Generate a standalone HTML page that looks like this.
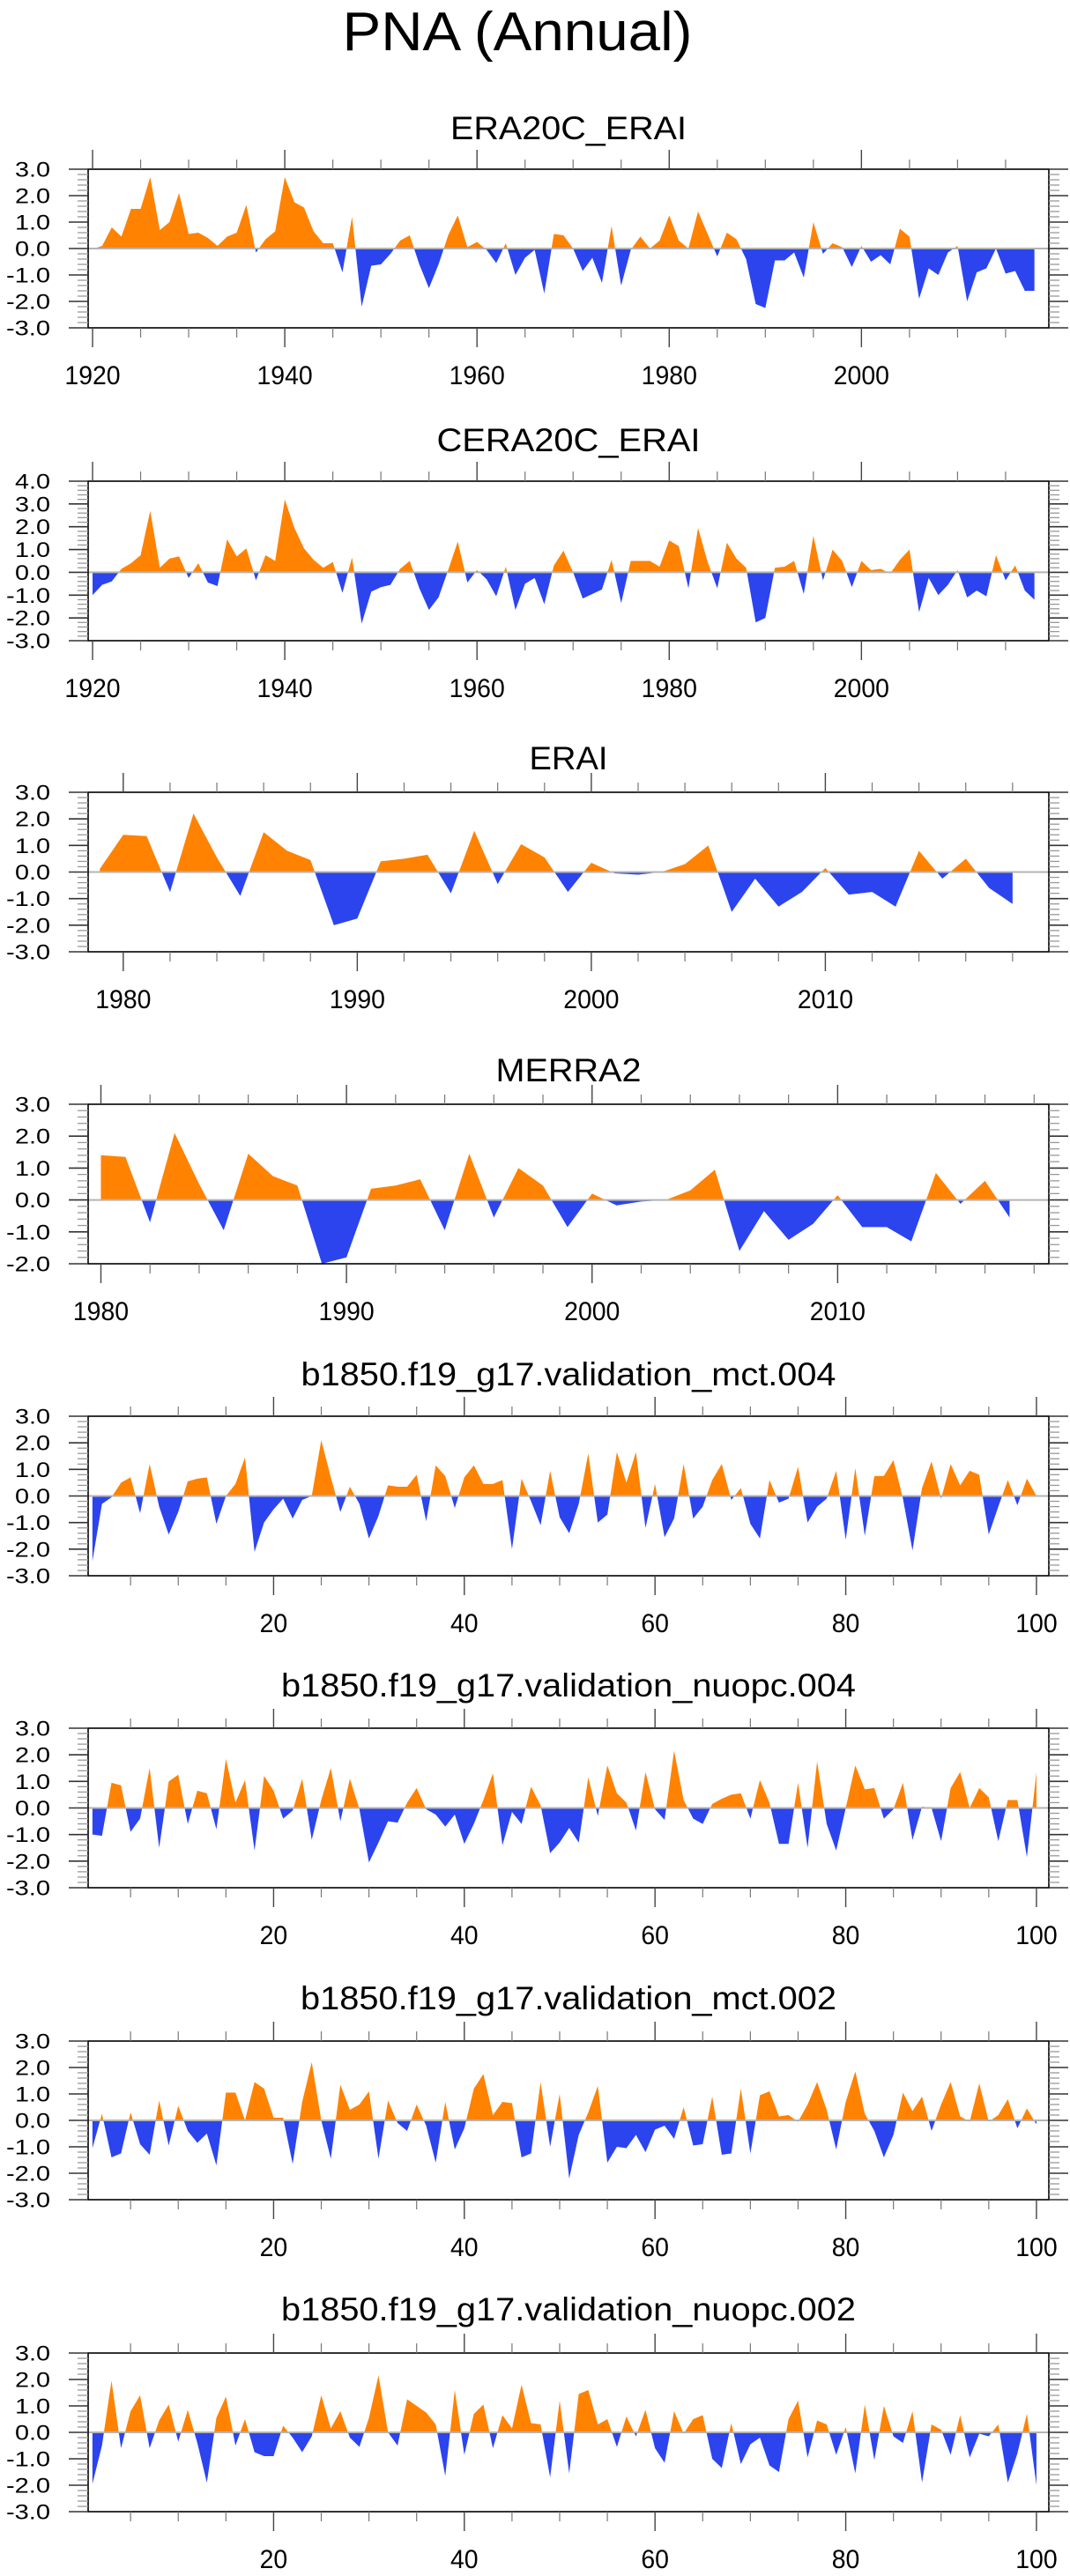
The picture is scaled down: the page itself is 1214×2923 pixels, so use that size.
<!DOCTYPE html>
<html><head><meta charset="utf-8"><title>PNA (Annual)</title>
<style>html,body{margin:0;padding:0;background:#fff;}svg{display:block;font-family:"Liberation Sans",Arial,sans-serif;}</style>
</head><body>
<svg id="chart" xmlns="http://www.w3.org/2000/svg" width="1214" height="2923" viewBox="0 0 1214 2923">
<rect width="1214" height="2923" fill="#fff"/>
<text x="587" y="57" font-size="62" text-anchor="middle" textLength="397" lengthAdjust="spacingAndGlyphs">PNA (Annual)</text>
</svg>
<script>
const era20cStartYear = 1920;
const era20cVals = [-0.02,0.1,0.8,0.45,1.5,1.5,2.7,0.7,1.0,2.1,0.55,0.6,0.4,0.1,0.45,0.6,1.65,-0.15,0.35,0.65,2.7,1.75,1.55,0.65,0.2,0.2,-0.9,1.2,-2.2,-0.65,-0.6,-0.2,0.3,0.5,-0.6,-1.5,-0.6,0.5,1.25,0.05,0.25,-0.05,-0.55,0.2,-1.0,-0.35,-0.05,-1.7,0.55,0.5,0.0,-0.85,-0.35,-1.3,0.85,-1.4,-0.05,0.45,0.0,0.3,1.25,0.3,0.0,1.4,0.55,-0.3,0.6,0.35,-0.4,-2.1,-2.25,-0.45,-0.45,-0.15,-1.1,1.0,-0.2,0.2,0.05,-0.7,0.1,-0.5,-0.25,-0.6,0.75,0.45,-1.9,-0.75,-1.0,-0.15,0.1,-2.0,-0.9,-0.75,0.0,-0.95,-0.85,-1.6,-1.6];
const cera20cStartYear = 1920;
const cera20cVals = [-1.0,-0.55,-0.4,0.15,0.4,0.75,2.7,0.2,0.6,0.7,-0.25,0.4,-0.45,-0.6,1.45,0.7,1.05,-0.35,0.75,0.5,3.2,1.95,1.05,0.55,0.2,0.45,-0.9,0.65,-2.25,-0.85,-0.65,-0.55,0.15,0.5,-0.7,-1.65,-1.1,0.1,1.35,-0.45,0.1,-0.3,-1.05,0.25,-1.65,-0.5,-0.25,-1.4,0.3,0.95,0.0,-1.15,-0.95,-0.75,0.55,-1.35,0.5,0.5,0.5,0.25,1.4,1.15,-0.7,1.95,0.45,-0.7,1.3,0.6,0.2,-2.2,-2.0,0.2,0.25,0.5,-0.95,1.6,-0.35,1.0,0.5,-0.65,0.5,0.1,0.15,-0.05,0.55,1.0,-1.75,-0.25,-1.0,-0.55,0.1,-1.1,-0.8,-1.05,0.75,-0.35,0.3,-0.8,-1.2];
const eraiStartYear = 1979;
const eraiVals = [0.12,1.4,1.35,-0.75,2.2,0.55,-0.9,1.5,0.8,0.45,-2.0,-1.75,0.4,0.5,0.65,-0.8,1.55,-0.45,1.05,0.55,-0.75,0.35,-0.05,-0.1,0.0,0.3,1.0,-1.5,-0.25,-1.3,-0.75,0.15,-0.85,-0.75,-1.3,0.8,-0.25,0.5,-0.6,-1.2];
const merra2StartYear = 1980;
const merra2Vals = [1.4,1.35,-0.7,2.1,0.5,-0.95,1.45,0.75,0.45,-2.0,-1.8,0.35,0.45,0.65,-0.95,1.45,-0.55,1.0,0.45,-0.85,0.2,-0.17,-0.05,0.0,0.3,0.95,-1.6,-0.35,-1.25,-0.75,0.15,-0.85,-0.85,-1.3,0.85,-0.12,0.6,-0.55];
const modelStartYear = 1;
const mct004Vals = [-2.45,-0.3,-0.05,0.5,0.7,-0.65,1.2,-0.4,-1.45,-0.6,0.55,0.65,0.7,-1.05,0.0,0.45,1.45,-2.1,-1.0,-0.5,-0.1,-0.85,-0.15,0.0,2.1,0.7,-0.6,0.35,-0.3,-1.6,-0.75,0.4,0.35,0.35,0.8,-0.95,1.15,0.75,-0.45,0.7,1.15,0.45,0.45,0.6,-2.0,0.65,-0.2,-1.1,0.95,-0.8,-1.4,-0.3,1.6,-1.0,-0.7,1.65,0.5,1.65,-1.2,0.45,-1.55,-0.85,1.2,-0.85,-0.4,0.6,1.2,-0.15,0.3,-1.05,-1.6,0.6,-0.25,-0.1,1.1,-1.0,-0.4,-0.1,0.95,-1.65,1.05,-1.5,0.75,0.75,1.35,-0.1,-2.05,0.3,1.3,-0.1,1.2,0.4,0.95,0.8,-1.45,-0.4,0.6,-0.35,0.65,0.0];
const nuopc004Vals = [-1.0,-1.05,0.95,0.85,-0.9,-0.4,1.5,-1.5,1.0,1.25,-0.6,0.65,0.55,-0.8,1.85,0.2,1.05,-1.6,1.2,0.65,-0.4,-0.1,1.1,-1.2,0.3,1.5,-0.5,1.1,-0.05,-2.05,-1.3,-0.5,-0.55,0.2,0.75,-0.05,-0.25,-0.7,-0.25,-1.35,-0.6,0.3,1.3,-1.4,-0.15,-0.6,0.8,0.1,-1.7,-1.3,-0.75,-1.3,1.15,-0.3,1.6,0.55,0.2,-0.85,1.35,-0.05,-0.45,2.15,0.3,-0.4,-0.6,0.15,0.35,0.5,0.55,-0.4,1.05,0.2,-1.35,-1.35,0.95,-1.5,1.75,-0.6,-1.6,0.0,1.6,0.7,0.75,-0.4,-0.05,0.95,-1.2,0.05,0.0,-1.25,0.75,1.35,0.0,0.75,0.4,-1.25,0.3,0.3,-1.85,1.35];
const mct002Vals = [-1.05,0.25,-1.4,-1.25,0.3,-0.9,-1.3,0.75,-0.95,0.55,-0.4,-0.85,-0.5,-1.7,1.05,1.05,0.0,1.45,1.2,0.1,0.1,-1.65,0.7,2.2,0.0,-1.45,1.35,0.4,0.6,1.1,-1.45,0.75,-0.1,-0.4,0.6,-0.2,-1.6,0.7,-1.1,-0.3,1.2,1.75,0.2,0.7,0.65,-1.4,-1.25,1.45,-1.0,1.0,-2.2,-0.55,0.3,1.3,-1.6,-1.0,-1.05,-0.55,-1.2,-0.35,-0.2,-0.7,0.5,-0.95,-0.9,0.9,-1.3,-1.25,1.2,-1.25,0.95,1.1,0.15,0.2,-0.05,0.6,1.45,0.4,-1.1,0.7,1.85,0.25,-0.4,-1.4,-0.55,1.05,0.35,0.9,-0.4,0.6,1.45,0.15,-0.05,1.4,-0.05,0.2,0.8,-0.3,0.45,-0.15];
const nuopc002Vals = [-1.95,-0.5,1.95,-0.6,0.8,1.4,-0.6,0.45,1.05,-0.35,0.85,-0.4,-1.9,0.55,1.35,-0.5,0.5,-0.75,-0.9,-0.9,0.25,-0.2,-0.75,-0.15,1.4,0.15,0.8,-0.2,-0.55,0.55,2.15,0.0,-0.5,1.25,1.0,0.75,0.3,-1.65,1.6,-0.85,0.7,1.05,-0.6,0.65,0.15,1.8,0.35,0.3,-1.7,1.2,-1.55,1.45,1.6,0.3,0.5,-0.55,0.6,-0.15,0.85,-0.6,-1.15,0.8,-0.05,0.5,0.65,-1.0,-1.35,0.35,-1.2,-0.45,-0.2,-1.25,-1.5,0.5,1.2,-0.95,0.45,0.3,-0.85,0.2,-1.55,1.05,-1.05,1.0,-0.15,-0.4,0.8,-1.9,0.3,0.1,-0.85,0.65,-0.95,-0.05,-0.15,0.3,-1.9,-0.8,0.7,-2.0];

const NS = 'http://www.w3.org/2000/svg';
const svg = document.getElementById('chart');
const L = 100, R = 1190;
function mk(tag, attrs, parent) {
  const e = document.createElementNS(NS, tag);
  for (const k in attrs) e.setAttribute(k, attrs[k]);
  (parent || svg).appendChild(e);
  return e;
}
function range(a, b, s) { const o = []; for (let v = a; v <= b + 1e-9; v += s) o.push(Math.round(v * 1000) / 1000); return o; }

const panels = [
  {name:'era20c-erai', title:'ERA20C_ERAI', vals:era20cVals, start:era20cStartYear, xmin:1919.54, xmax:2019.5, ymin:-3, ymax:3, top:192, bot:372, tb:158, tw:268, maj:[1920,1940,1960,1980,2000], minStep:5, minFrom:1920, minTo:2015},
  {name:'cera20c-erai', title:'CERA20C_ERAI', vals:cera20cVals, start:cera20cStartYear, xmin:1919.54, xmax:2019.5, ymin:-3, ymax:4, top:546, bot:727, tb:512, tw:299, maj:[1920,1940,1960,1980,2000], minStep:5, minFrom:1920, minTo:2015},
  {name:'erai', title:'ERAI', vals:eraiVals, start:eraiStartYear, xmin:1978.5, xmax:2019.55, ymin:-3, ymax:3, top:899, bot:1080, tb:873, tw:89, maj:[1980,1990,2000,2010], minStep:2, minFrom:1980, minTo:2018},
  {name:'merra2', title:'MERRA2', vals:merra2Vals, start:merra2StartYear, xmin:1979.48, xmax:2018.6, ymin:-2, ymax:3, top:1253, bot:1434, tb:1227, tw:165, maj:[1980,1990,2000,2010], minStep:2, minFrom:1980, minTo:2018},
  {name:'mct-004', title:'b1850.f19_g17.validation_mct.004', vals:mct004Vals, start:modelStartYear, xmin:0.55, xmax:101.3, ymin:-3, ymax:3, top:1607, bot:1788, tb:1572, tw:607, maj:[20,40,60,80,100], minStep:5, minFrom:5, minTo:100},
  {name:'nuopc-004', title:'b1850.f19_g17.validation_nuopc.004', vals:nuopc004Vals, start:modelStartYear, xmin:0.55, xmax:101.3, ymin:-3, ymax:3, top:1961, bot:2142, tb:1925, tw:652, maj:[20,40,60,80,100], minStep:5, minFrom:5, minTo:100},
  {name:'mct-002', title:'b1850.f19_g17.validation_mct.002', vals:mct002Vals, start:modelStartYear, xmin:0.55, xmax:101.3, ymin:-3, ymax:3, top:2316, bot:2496, tb:2280, tw:608, maj:[20,40,60,80,100], minStep:5, minFrom:5, minTo:100},
  {name:'nuopc-002', title:'b1850.f19_g17.validation_nuopc.002', vals:nuopc002Vals, start:modelStartYear, xmin:0.55, xmax:101.3, ymin:-3, ymax:3, top:2670, bot:2850, tb:2633, tw:652, maj:[20,40,60,80,100], minStep:5, minFrom:5, minTo:100}
];

panels.forEach(p => {
  const g = mk('g', {});
  
  
  const xs = v => L + (v - p.xmin) / (p.xmax - p.xmin) * (R - L);
  const ys = v => p.bot - (v - p.ymin) / (p.ymax - p.ymin) * (p.bot - p.top);

  const t = mk('text', {x:645, y:p.tb, 'font-size':37, 'text-anchor':'middle', textLength:p.tw, lengthAdjust:'spacingAndGlyphs'}, g);
  t.textContent = p.title;
  
  

  // build points with zero crossings
  const pts = [];
  for (let i = 0; i < p.vals.length; i++) {
    const x = p.start + i, v = p.vals[i];
    if (i > 0) {
      const pv = p.vals[i - 1];
      if ((pv > 0 && v < 0) || (pv < 0 && v > 0)) {
        const f = pv / (pv - v);
        pts.push([x - 1 + f, 0]);
      }
    }
    pts.push([x, v]);
  }
  const x0 = xs(pts[0][0]), x1 = xs(pts[pts.length - 1][0]), y0 = ys(0);
  let dp = 'M' + x0 + ',' + y0, dn = 'M' + x0 + ',' + y0;
  pts.forEach(q => {
    dp += 'L' + xs(q[0]).toFixed(2) + ',' + ys(Math.max(q[1], 0)).toFixed(2);
    dn += 'L' + xs(q[0]).toFixed(2) + ',' + ys(Math.min(q[1], 0)).toFixed(2);
  });
  dp += 'L' + x1 + ',' + y0 + 'Z'; dn += 'L' + x1 + ',' + y0 + 'Z';
  const pa = mk('path', {d:dp, fill:'#ff8200', stroke:'none'}, g);
  
  
  const na = mk('path', {d:dn, fill:'#2b44ee', stroke:'none'}, g);
  
  
  const zl = mk('line', {x1:L, x2:R, y1:y0, y2:y0, stroke:'#b4b4b4', 'stroke-width':2}, g);
  
  

  const fr = mk('rect', {x:L, y:p.top, width:R - L, height:p.bot - p.top, fill:'none', stroke:'#000', 'stroke-width':1.6}, g);
  
  

  // y ticks
  range(p.ymin, p.ymax, 0.2).forEach(v => {
    const y = ys(v);
    const major = Math.abs(v - Math.round(v)) < 1e-6;
    const len = major ? 22 : 12;
    mk('line', {x1:L - len, x2:L, y1:y, y2:y, stroke:major ? '#333' : '#999', 'stroke-width':major ? 1.6 : 1.3}, g);
    mk('line', {x1:R, x2:R + len, y1:y, y2:y, stroke:major ? '#333' : '#999', 'stroke-width':major ? 1.6 : 1.3}, g);
    if (major) {
      const lb = mk('text', {x:57, y:y + 8.5, 'font-size':24, 'text-anchor':'end', textLength:v < 0 ? 50 : 40, lengthAdjust:'spacingAndGlyphs'}, g);
      lb.textContent = v.toFixed(1);
      
      
    }
  });
  // x ticks
  range(p.minFrom, p.minTo, p.minStep).forEach(v => {
    if (p.maj.indexOf(v) >= 0) return;
    const x = xs(v);
    mk('line', {x1:x, x2:x, y1:p.top - 11, y2:p.top, stroke:'#777', 'stroke-width':1.2}, g);
    mk('line', {x1:x, x2:x, y1:p.bot, y2:p.bot + 11, stroke:'#777', 'stroke-width':1.2}, g);
  });
  p.maj.forEach(v => {
    const x = xs(v);
    mk('line', {x1:x, x2:x, y1:p.top - 22, y2:p.top, stroke:'#444', 'stroke-width':1.4}, g);
    mk('line', {x1:x, x2:x, y1:p.bot, y2:p.bot + 22, stroke:'#444', 'stroke-width':1.4}, g);
    const s = String(v);
    const lb = mk('text', {x:x, y:p.bot + 64, 'font-size':30, 'text-anchor':'middle', textLength:s.length * 15.8, lengthAdjust:'spacingAndGlyphs'}, g);
    lb.textContent = s;
    
    
  });
});
</script>
</body></html>
